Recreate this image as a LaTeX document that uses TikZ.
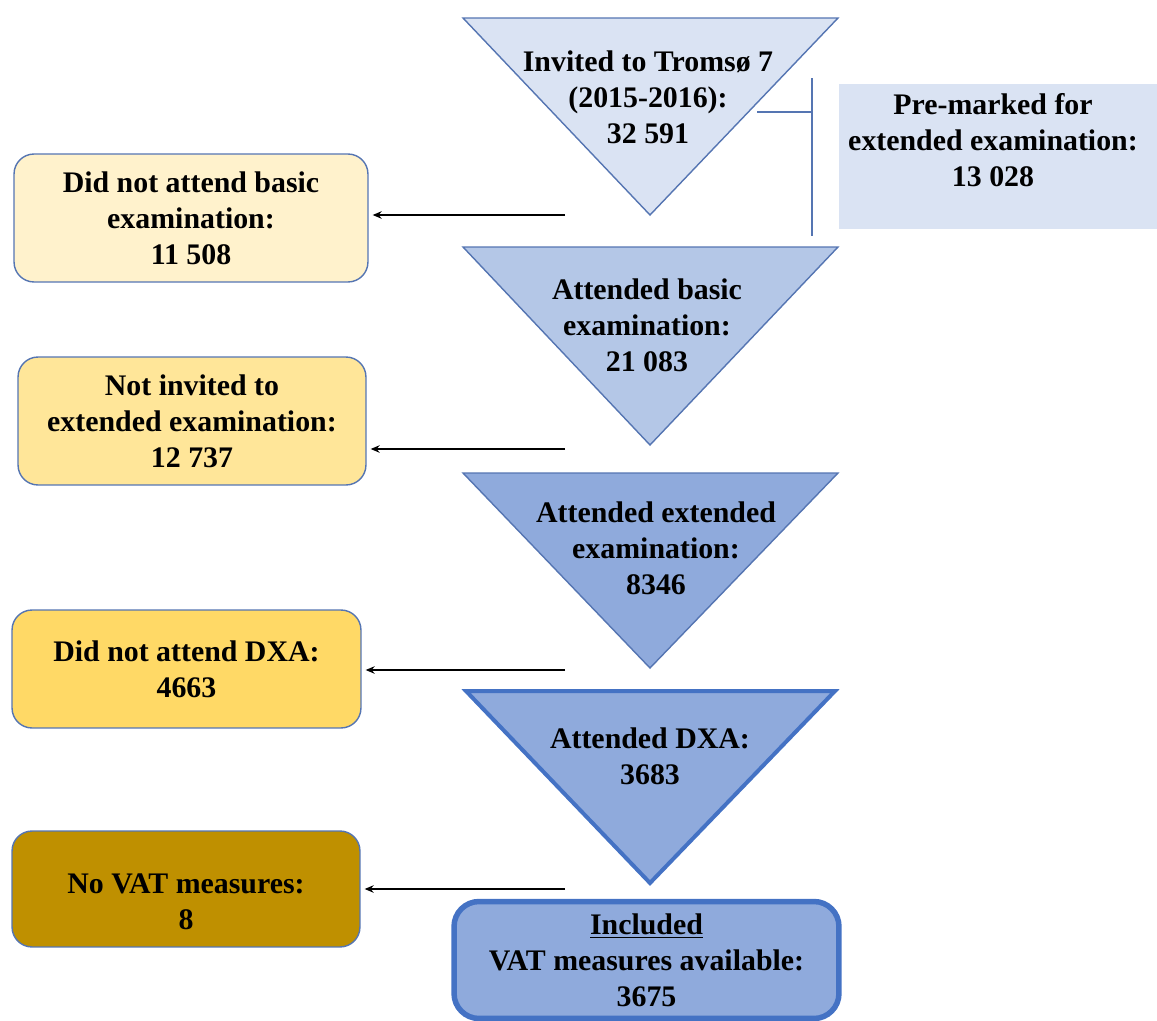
\documentclass[tikz,border=0pt]{standalone}
\usepackage{fontspec}
\setmainfont{Liberation Serif}
\usetikzlibrary{arrows.meta}
\definecolor{triA}{HTML}{DAE3F3}
\definecolor{triB}{HTML}{B4C7E7}
\definecolor{triC}{HTML}{8FAADC}
\definecolor{edgeblue}{HTML}{4472C4}
\definecolor{thinblue}{HTML}{5575B2}
\definecolor{boxA}{HTML}{FFF2CC}
\definecolor{boxB}{HTML}{FFE699}
\definecolor{boxC}{HTML}{FFD966}
\definecolor{boxD}{HTML}{BF9000}
\tikzset{
  sidebox/.style={draw=thinblue, line width=0.8pt, rounded corners=0.4cm, align=center, minimum width=7.0cm},
  tritext/.style={align=center},
  tri/.style={draw=thinblue, line width=0.8pt, line join=miter},
  arr/.style={line width=0.8pt, -{Stealth[length=1.8mm,width=1.5mm]}, shorten >=0.08cm},
}

\begin{document}
\begin{tikzpicture}[x=0.02cm, y=-0.02cm, font=\fontsize{17}{20.5}\selectfont\bfseries]
    \useasboundingbox (0,0) rectangle (1157,1021);
    % funnel
    \filldraw[tri, fill=triA] (463,18) -- (838,18) -- (650,215) -- cycle;
    \node[tritext] (invited) at (648,97) {Invited to Tromsø 7\\(2015-2016):\\32 591};
    \filldraw[tri, fill=triB] (463,247) -- (838,247) -- (650,445) -- cycle;
    \node[tritext] (basic) at (647,325) {Attended basic\\examination:\\21 083};
    \filldraw[tri, fill=triC] (463,473) -- (838,473) -- (650,668) -- cycle;
    \node[tritext] (extended) at (656,548) {Attended extended\\examination:\\8346};
    \filldraw[draw=edgeblue, fill=triC, line width=0.08cm, line join=miter] (466,691) -- (835,691) -- (650,883) -- cycle;
    \node[tritext] (dxa) at (650,756) {Attended DXA:\\3683};
    \node[draw=edgeblue, fill=triC, line width=0.11cm, rounded corners=0.5cm, minimum width=7.7cm, minimum height=2.34cm, align=center] (included) at (646.5,960) {\underline{Included}\\VAT measures available:\\3675};

    % pre-marked
    \node[fill=triA, minimum width=6.36cm, minimum height=2.9cm] (premark) at (998,156.5) {};
    \node[align=center] (premarktxt) at (993,140) {Pre-marked for\\extended examination:\\13 028};
    \coordinate (brtop) at (812,78);
    \coordinate (brbot) at (812,236);
    \coordinate (brmid) at (812,112);
    \coordinate (brin) at (757,112);
    \draw[thinblue, line width=0.9pt] (brtop) -- (brbot);
    \draw[thinblue, line width=0.9pt] (brin) -- (brmid);

    % excluded
    \node[sidebox, fill=boxA, minimum width=7.08cm, minimum height=2.56cm] (nobasic) at (191,218) {Did not attend basic\\examination:\\11 508};
    \node[sidebox, fill=boxB, minimum width=6.96cm, minimum height=2.56cm] (noinvite) at (192,421) {Not invited to\\extended examination:\\12 737};
    \node[sidebox, fill=boxC, minimum width=6.98cm, minimum height=2.36cm] (nodxa) at (186.5,669) {Did not attend DXA:\\4663};
    \node[sidebox, fill=boxD, minimum width=6.96cm, minimum height=2.32cm] (novat) at (186,889) {};
    \node[align=center] (novattxt) at (186,902) {No VAT measures:\\8};

    \coordinate (out1) at (565,215);
    \coordinate (out2) at (565,449);
    \coordinate (out3) at (565,670);
    \coordinate (out4) at (565,889);
    \draw[arr] (out1) -- (out1 -| nobasic.east);
    \draw[arr] (out2) -- (out2 -| noinvite.east);
    \draw[arr] (out3) -- (out3 -| nodxa.east);
    \draw[arr] (out4) -- (out4 -| novat.east);
\end{tikzpicture}
\end{document}
